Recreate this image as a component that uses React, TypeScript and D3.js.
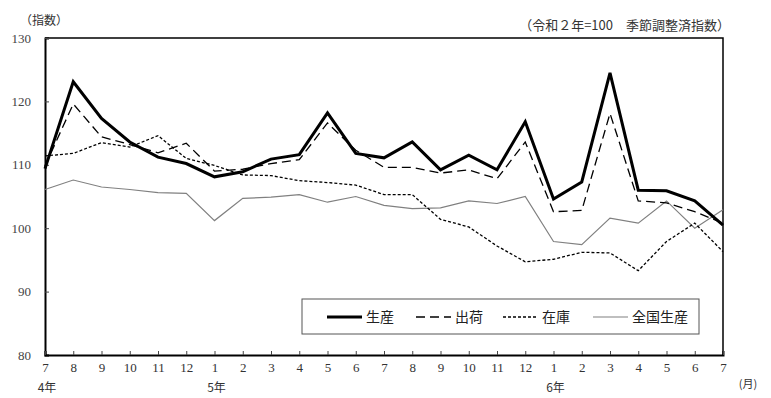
import { useEffect, useRef } from "react"
import * as d3 from "d3"

const months = ["7", "8", "9", "10", "11", "12", "1", "2", "3", "4", "5", "6", "7", "8", "9", "10", "11", "12", "1", "2", "3", "4", "5", "6", "7"]
const yearLabels = [
  { index: 0, label: "4年" },
  { index: 6, label: "5年" },
  { index: 18, label: "6年" },
]
const yTicks = [80, 90, 100, 110, 120, 130]

const production = [109.4, 123.1, 117.3, 113.6, 111.2, 110.2, 108.1, 108.9, 110.9, 111.6, 118.2, 111.8, 111.1, 113.6, 109.2, 111.5, 109.2, 116.8, 104.6, 107.3, 124.5, 106.0, 105.9, 104.3, 100.5]
const shipments = [109.8, 119.6, 114.4, 113.2, 111.9, 113.4, 109.0, 109.3, 110.2, 110.8, 116.6, 112.3, 109.6, 109.6, 108.7, 109.2, 107.8, 113.6, 102.6, 102.8, 118.1, 104.3, 104.0, 102.6, 100.8]
const inventory = [111.4, 111.8, 113.5, 112.8, 114.6, 111.0, 109.9, 108.4, 108.3, 107.5, 107.2, 106.8, 105.3, 105.3, 101.4, 100.2, 97.2, 94.7, 95.1, 96.2, 96.1, 93.3, 97.9, 100.8, 96.3]
const national = [106.1, 107.6, 106.5, 106.1, 105.6, 105.5, 101.2, 104.7, 104.9, 105.3, 104.1, 105.0, 103.6, 103.1, 103.2, 104.3, 103.9, 105.0, 97.9, 97.4, 101.6, 100.8, 104.3, 100.0, 102.9]

const seriesList = [
  { name: "生産", values: production, color: "#000", width: 3, dash: "" },
  { name: "出荷", values: shipments, color: "#000", width: 1.3, dash: "9,5" },
  { name: "在庫", values: inventory, color: "#000", width: 1.3, dash: "3,2" },
  { name: "全国生産", values: national, color: "#808080", width: 1.2, dash: "" },
]

const JP = "'Noto Sans CJK JP', 'Noto Sans', sans-serif"
const NUM = "'Liberation Serif', 'DejaVu Serif', serif"

export default function App() {
  const svgRef = useRef<SVGSVGElement>(null)

  useEffect(() => {
    document.body.style.margin = "0"
    if (!svgRef.current) return
    const root = d3.select(svgRef.current)
    root.selectAll("*").remove()

    const width = 771
    const height = 398
    const margin = { top: 38, right: 48, bottom: 43, left: 45 }
    const chartWidth = width - margin.left - margin.right
    const chartHeight = height - margin.top - margin.bottom

    root.attr("width", width).attr("height", height)
    const svg = root.append("g").attr("transform", `translate(${margin.left},${margin.top})`)

    const x = d3.scaleLinear().domain([0, months.length - 1]).range([0, chartWidth])
    const y = d3.scaleLinear().domain([80, 130]).range([chartHeight, 0])

    // frame (top and right)
    svg
      .append("path")
      .attr("d", `M0,0H${chartWidth}V${chartHeight}`)
      .attr("fill", "none")
      .attr("stroke", "#000")
      .attr("stroke-width", 1.5)

    // Y axis
    const yAxis = svg
      .append("g")
      .call(d3.axisLeft(y).tickValues(yTicks).tickSize(-4).tickPadding(14))
    yAxis.select(".domain").attr("stroke-width", 2)
    yAxis.selectAll("line").attr("stroke", "#444")
    yAxis
      .selectAll("text")
      .style("font-family", NUM)
      .style("font-size", "13px")
      .style("fill", "#444")

    // X axis
    const xAxis = svg
      .append("g")
      .attr("transform", `translate(0,${chartHeight})`)
      .call(
        d3
          .axisBottom(x)
          .tickValues(d3.range(months.length))
          .tickFormat((d) => months[d as number])
          .tickSize(-4)
          .tickPadding(8)
      )
    xAxis.select(".domain").attr("stroke-width", 2)
    xAxis.selectAll("line").attr("stroke", "#444")
    xAxis
      .selectAll("text")
      .style("font-family", NUM)
      .style("font-size", "13px")
      .style("fill", "#333")

    // year labels
    svg
      .selectAll(".year")
      .data(yearLabels)
      .enter()
      .append("text")
      .attr("class", "year")
      .attr("x", (d) => x(d.index) + 2)
      .attr("y", chartHeight + 37)
      .attr("text-anchor", "middle")
      .style("font-family", JP)
      .style("font-size", "12px")
      .style("fill", "#333")
      .text((d) => d.label)

    svg
      .append("text")
      .attr("x", chartWidth + 25)
      .attr("y", chartHeight + 33)
      .attr("text-anchor", "middle")
      .style("font-family", JP)
      .style("font-size", "11px")
      .style("fill", "#333")
      .text("(月)")

    // lines
    const line = d3
      .line<number>()
      .x((_, i) => x(i))
      .y((d) => y(d))

    seriesList
      .slice()
      .reverse()
      .forEach((s) => {
        svg
          .append("path")
          .datum(s.values)
          .attr("fill", "none")
          .attr("stroke", s.color)
          .attr("stroke-width", s.width)
          .attr("stroke-dasharray", s.dash)
          .attr("stroke-linejoin", "miter")
          .attr("d", line)
      })

    // legend
    const legend = svg.append("g").attr("transform", `translate(${302 - margin.left},${299 - margin.top})`)
    legend
      .append("rect")
      .attr("width", 397)
      .attr("height", 35)
      .attr("fill", "#fff")
      .attr("stroke", "#555")
      .attr("stroke-width", 1)
    const legendX = [25, 114, 201, 291]
    seriesList.forEach((s, i) => {
      const g = legend.append("g").attr("transform", `translate(${legendX[i]},18)`)
      g.append("line")
        .attr("x1", 0)
        .attr("x2", 35)
        .attr("stroke", s.color)
        .attr("stroke-width", s.width)
        .attr("stroke-dasharray", s.dash)
      g.append("text")
        .attr("x", 39)
        .attr("dy", "0.35em")
        .style("font-family", JP)
        .style("font-size", "14px")
        .style("fill", "#222")
        .text(s.name)
    })

    // titles
    root
      .append("text")
      .attr("x", 20)
      .attr("y", 25)
      .style("font-family", JP)
      .style("font-size", "12px")
      .style("fill", "#333")
      .text("（指数）")

    root
      .append("text")
      .attr("x", 730)
      .attr("y", 30)
      .attr("text-anchor", "end")
      .style("font-family", JP)
      .style("font-size", "13px")
      .style("fill", "#333")
      .text("（令和２年=100　季節調整済指数）")
  }, [])

  return <svg ref={svgRef}></svg>
}
